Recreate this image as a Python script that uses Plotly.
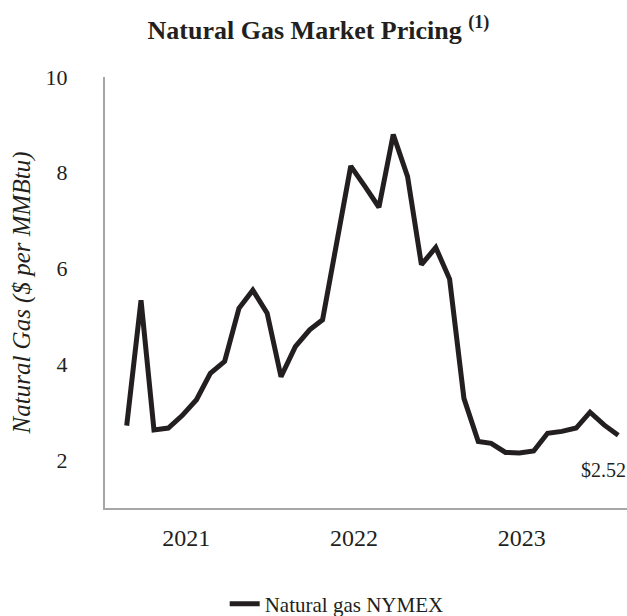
import plotly.graph_objects as go

months = [f"{y}-{m:02d}-01" for y in (2021, 2022, 2023) for m in range(1, 13)]
prices = [2.72, 5.34, 2.63, 2.67, 2.93, 3.26, 3.81, 4.06, 5.17, 5.55, 5.07, 3.74,
          4.37, 4.72, 4.93, 6.60, 8.14, 7.71, 7.28, 8.80, 7.92, 6.08, 6.44, 5.78,
          3.29, 2.39, 2.35, 2.16, 2.15, 2.19, 2.56, 2.60, 2.67, 3.00, 2.73, 2.52]
year_ticks = ["2021-05-10", "2022-05-08", "2023-05-06"]
year_labels = ["2021", "2022", "2023"]
y_ticks = [2, 4, 6, 8, 10]
series_name = "Natural gas NYMEX"
last_label = "$2.52"

serif = "Liberation Serif, Times New Roman, serif"
ink = "#231f20"

fig = go.Figure()
fig.add_trace(go.Scatter(
    x=months, y=prices, mode="lines", name=series_name,
    line=dict(color=ink, width=5),
))

fig.add_annotation(
    x=months[-1], y=prices[-1], text=last_label, showarrow=False,
    xanchor="center", yanchor="top", xshift=-15, yshift=-22,
    font=dict(family=serif, size=20, color=ink),
)

fig.update_layout(
    width=627, height=616,
    margin=dict(l=105, r=0, t=77, b=108),
    paper_bgcolor="white", plot_bgcolor="white",
    title=dict(
        text="<b>Natural Gas Market Pricing <sup>(1)</sup></b>",
        x=0.508, xanchor="center", y=1 - 30 / 616, yanchor="middle",
        font=dict(family=serif, size=26, color=ink),
    ),
    font=dict(family=serif, color=ink),
    showlegend=True,
    legend=dict(
        orientation="h", xref="container", x=0.537, xanchor="center",
        yref="container", y=1 - 604 / 616, yanchor="middle",
        font=dict(family=serif, size=21, color=ink),
    ),
    xaxis=dict(
        type="date", range=["2020-11-15", "2023-12-20"],
        tickvals=year_ticks, ticktext=year_labels,
        showgrid=False, zeroline=False,
        showline=True, linecolor="#a6a6a6", linewidth=2,
        ticks="", ticklabelstandoff=7,
        tickfont=dict(family=serif, size=24, color=ink),
    ),
    yaxis=dict(
        range=[1, 10], tickvals=y_ticks,
        showgrid=False, zeroline=False,
        showline=True, linecolor="#a6a6a6", linewidth=2,
        ticks="", ticklabelstandoff=31,
        tickfont=dict(family=serif, size=22, color=ink),
        title=dict(text="<i>Natural Gas ($ per MMBtu)</i>",
                   font=dict(family=serif, size=25, color=ink), standoff=8),
    ),
)

fig.write_html("out.html", config={"displayModeBar": False},
               post_script="document.body.style.margin='0';")
